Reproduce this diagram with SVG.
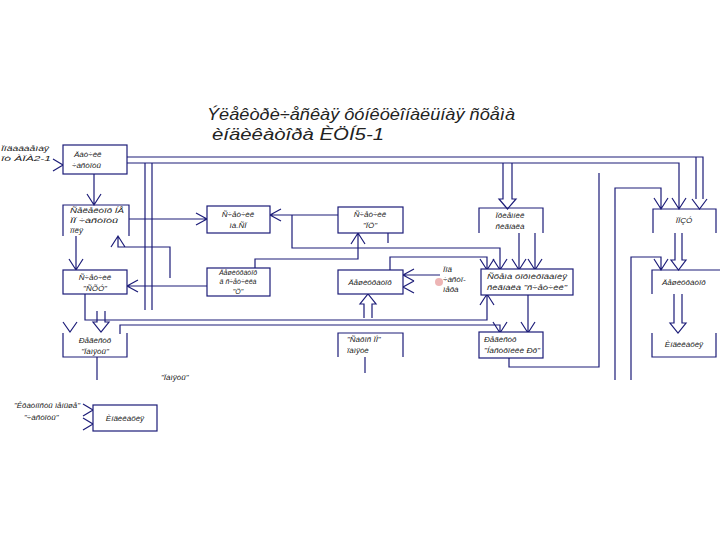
<svg xmlns="http://www.w3.org/2000/svg" width="720" height="540" viewBox="0 0 720 540">
<style>
text{font-family:"Liberation Sans Narrow","Liberation Sans",sans-serif;font-style:italic;font-size:8px;fill:#222}
.t{font-size:17px}
.c{text-anchor:middle}
.b{fill:#fff;stroke:#1c1c78;stroke-width:1.2}
.o{fill:none;stroke:#1c1c78;stroke-width:1.2}
.w{fill:none;stroke:#1c1c78;stroke-width:1.2}
</style>
<rect width="720" height="540" fill="#fff"/>
<g id="title">
<text class="t" x="207" y="120" textLength="308" lengthAdjust="spacingAndGlyphs">Ýëåêòðè÷åñêàÿ ôóíêöèîíàëüíàÿ ñõåìà</text>
<text class="t" x="212" y="140" textLength="172" lengthAdjust="spacingAndGlyphs">èíäèêàòîðà ÈÖÍ5-1</text>
</g>
<g id="connectors">
<path class="w" d="M127 157H703V199M696 157V199M692 199L699.5 209L707 199"/>
<path class="w" d="M127 163H679V208M672 198L679 209L686 198"/>
<path class="w" d="M503 163V199H499L507.5 209L516 199H512V163"/>
<path class="w" d="M615 380V188H661V208M654 198L661 209L668 198"/>
<path class="w" d="M675 233V260H671L678.5 270L686 260H682V233"/>
<path class="w" d="M631 380V257H661V269M654 259L661 270L668 259"/>
<path class="w" d="M674 294V323H670L678 333L686 323H682V294"/>
<path class="w" d="M509 357V367H599V173"/>
<path class="w" d="M519 233V269M512 259L519 270L526 259M535 233V269M528 259L535 270L542 259"/>
<path class="w" d="M338 215H271M281 209L270 215L281 221"/>
<path class="w" d="M292 215V248H500V269M493 259L500 270L507 259"/>
<path class="w" d="M129 219H206M196 213L207 219L196 225"/>
<path class="w" d="M94 174V205M87 194L94 205L101 194"/>
<path class="w" d="M76 236V269M69 259L76 270L83 259"/>
<path class="w" d="M170 278V247H118V237M111 247L118 236L125 247"/>
<path class="w" d="M207 286H128M138 280L127 286L138 292"/>
<path class="w" d="M255 268V259H358V234M351 244L358 233L365 244"/>
<path class="w" d="M388 233V243"/>
<path class="w" d="M390 270V257H487V269M480 259L487 270L494 259"/>
<path class="w" d="M440 275H404M414 269L403 275L414 281M414 281L403 287L414 293"/>
<path class="w" d="M364 318V304H360L368 294L376 304H372V318"/>
<path class="w" d="M85 294V320H487V295M480 305L487 294L494 305"/>
<path class="w" d="M97 311V322H93L101 332L109 322H105V311"/>
<path class="w" d="M63 322L70 332L77 322"/>
<path class="w" d="M120 334V325H500V332M493 322L500 333L507 322"/>
<path class="w" d="M528 294V332M521 322L528 333L535 322"/>
<path class="w" d="M97 357V380"/>
<path class="w" d="M365 357V373"/>
<path class="w" d="M145 163V310M152 163V310"/>
<path class="w" d="M53 159L63 165L53 171"/>
<path class="w" d="M83 404L93 410L83 416M83 418L93 424L83 430"/>
</g>
<g id="inlabel"><text x="1" y="151" textLength="48" lengthAdjust="spacingAndGlyphs">Ïîäàâàåìàÿ</text><text x="1" y="161" textLength="50" lengthAdjust="spacingAndGlyphs">îò ÀÏÀ2-1</text></g>
<g id="n_datchik"><rect class="b" x="63" y="145" width="64" height="29"/><text x="74" y="157">Äàò÷èê</text><text x="72" y="168">÷àñòîòû</text></g>
<g id="n_selektor"><path class="o" d="M63 236V205H129V236"/><text x="70" y="213" textLength="54" lengthAdjust="spacingAndGlyphs">Ñåëåêòîð ÍÅ</text><text x="70" y="223" textLength="48" lengthAdjust="spacingAndGlyphs">ÏÏ ÷àñòîòû</text><text x="70" y="233">ïîëÿ</text></g>
<g id="n_sch1"><rect class="b" x="207" y="206" width="63" height="27"/><text class="c" x="238" y="217">Ñ÷åò÷èê</text><text class="c" x="238" y="228">ìà.ÑÏ</text></g>
<g id="n_schPC"><rect class="b" x="338" y="207" width="65" height="26"/><text class="c" x="370" y="217">Ñ÷åò÷èê</text><text class="c" x="370" y="228">"ÏÖ"</text></g>
<g id="n_priemnik"><path class="o" d="M479 233V208H543V233"/><text class="c" x="510" y="218">Ïðèåìíèê</text><text class="c" x="510" y="229">ñèãíàëà</text></g>
<g id="n_ppzu"><path class="o" d="M653 233V209H716V233"/><text class="c" x="684" y="223">ÏÏÇÓ</text></g>
<g id="n_schSXU"><rect class="b" x="63" y="270" width="64" height="24"/><text class="c" x="95" y="280">Ñ÷åò÷èê</text><text class="c" x="95" y="291">"ÑÕÓ"</text></g>
<g id="n_desh1"><rect class="b" x="207" y="268" width="63" height="28"/><text class="c" x="238" y="275" style="font-size:7px">Äåøèôðàòîð</text><text class="c" x="238" y="284" style="font-size:7px">ä ñ÷åò÷èêà</text><text class="c" x="238" y="294" style="font-size:7px">"Ö"</text></g>
<g id="n_desh2"><rect class="b" x="338" y="270" width="65" height="24"/><text class="c" x="370" y="285">Äåøèôðàòîð</text></g>
<g id="plabel"><circle cx="439" cy="282" r="4" fill="#e9a3a3" opacity="0.8"/><text x="443" y="272">Ïîä</text><text x="443" y="282">÷àñòî-</text><text x="443" y="292">ìåðà</text></g>
<g id="n_shema"><rect class="b" x="481" y="269" width="92" height="26"/><text x="487" y="279" textLength="80" lengthAdjust="spacingAndGlyphs">Ñõåìà ôîðìèðîâàíèÿ</text><text x="487" y="290" textLength="80" lengthAdjust="spacingAndGlyphs">ñèãíàëà "ñ÷åò÷èê"</text></g>
<g id="n_desh3"><path class="o" d="M652 294V270H720"/><text x="662" y="285">Äåøèôðàòîð</text></g>
<g id="n_ind1"><path class="o" d="M652 333V357H716V333"/><text class="c" x="684" y="347">Èíäèêàöèÿ</text></g>
<g id="n_regpam"><path class="o" d="M63 333V357H127V333"/><text class="c" x="95" y="343">Ðåãèñòð</text><text class="c" x="95" y="354">"Ïàìÿòü"</text></g>
<g id="pamlabel"><text x="161" y="380">"Ïàìÿòü"</text></g>
<g id="n_sbros"><path class="o" d="M338 357V333H403V357"/><text x="347" y="342">"Ñáðîñ ÏÌ"</text><text x="347" y="353">ïàìÿòè</text></g>
<g id="n_regnast"><rect class="b" x="479" y="332" width="64" height="26"/><text x="484" y="342">Ðåãèñòð</text><text x="484" y="353" textLength="56" lengthAdjust="spacingAndGlyphs">"Íàñòðîéêè Ðð"</text></g>
<g id="krlabel"><text x="14" y="408" textLength="66" lengthAdjust="spacingAndGlyphs">"Êðàòíîñòü ìåíüøå"</text><text x="24" y="420">"÷àñòîòû"</text></g>
<g id="n_ind2"><rect class="b" x="93" y="405" width="64" height="26"/><text class="c" x="125" y="421">Èíäèêàöèÿ</text></g>
</svg>
